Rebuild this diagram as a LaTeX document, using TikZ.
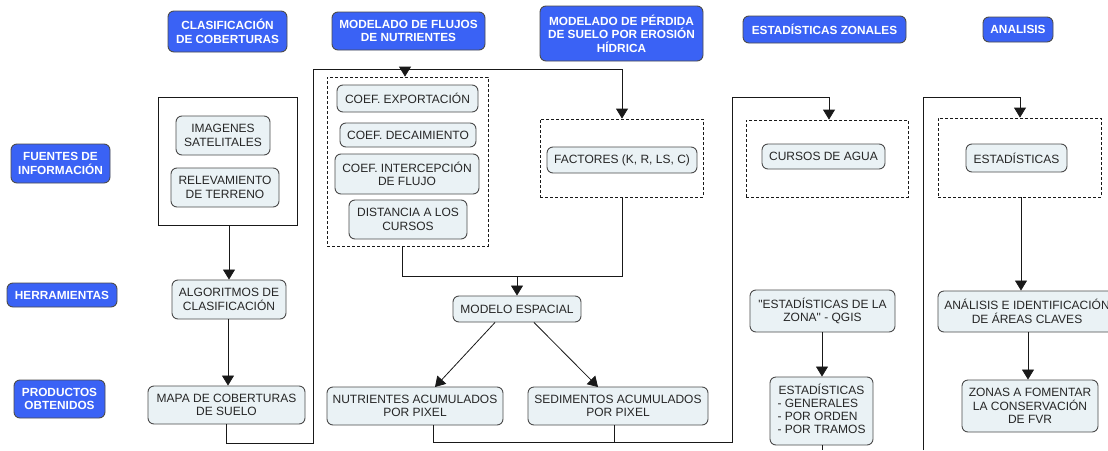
\documentclass[tikz,border=0pt]{standalone}
\usepackage{fontspec}
\setmainfont{Liberation Sans}[Ligatures=TeXOff]
\usetikzlibrary{arrows.meta}
\definecolor{hdrblue}{RGB}{58,98,245}
\definecolor{boxfill}{RGB}{234,242,245}
\definecolor{boxdraw}{RGB}{75,75,75}
\definecolor{linec}{RGB}{25,25,25}
\begin{document}
\begin{tikzpicture}[x=1pt,y=-1pt,
  every node/.style={inner sep=0pt,align=center,font=\fontsize{12}{13.6}\selectfont},
  hdr/.style={draw=boxdraw,line width=0.9pt,fill=hdrblue,rounded corners=6pt,text=white,font=\fontsize{11.8}{13.4}\selectfont\bfseries},
  lbox/.style={draw=boxdraw,line width=0.9pt,fill=boxfill,rounded corners=6pt,text=black!85},
  dbox/.style={draw=linec,line width=0.8pt,dash pattern=on 3pt off 2pt},
  sbox/.style={draw=linec,line width=0.8pt},
  conn/.style={draw=linec,line width=0.8pt},
  arr/.style={conn,-{Triangle[length=10pt,width=12pt]}}]
\useasboundingbox[fill=white] (0,0) rectangle (1108,450);

% headers
\node[hdr,minimum width=119pt,minimum height=41pt] (clas) at (227.5,31.5) {CLASIFICACIÓN\\DE COBERTURAS};
\node[hdr,minimum width=153pt,minimum height=38pt] (mflu) at (408.5,31) {MODELADO DE FLUJOS\\DE NUTRIENTES};
\node[hdr,minimum width=163pt,minimum height=55pt] (mper) at (621.5,33.5) {MODELADO DE PÉRDIDA\\DE SUELO POR EROSIÓN\\HÍDRICA};
\node[hdr,minimum width=163pt,minimum height=27pt] (estz) at (824.5,29.5) {ESTADÍSTICAS ZONALES};
\node[hdr,minimum width=70pt,minimum height=25pt] (anal) at (1018,29.5) {ANALISIS};
\node[hdr,minimum width=99pt,minimum height=39pt] (fuen) at (60.5,163.5) {FUENTES DE\\INFORMACIÓN};
\node[hdr,minimum width=110pt,minimum height=24pt] (herr) at (62,295) {HERRAMIENTAS};
\node[hdr,minimum width=91pt,minimum height=38pt] (prod) at (59.5,399) {PRODUCTOS\\OBTENIDOS};

% grouping frames
\node[sbox,minimum width=139pt,minimum height=128pt] (src) at (227.5,161) {};
\node[dbox,minimum width=161pt,minimum height=169pt] (d1) at (407.5,161.5) {};
\node[dbox,minimum width=163pt,minimum height=78pt] (d2) at (621.5,158) {};
\node[dbox,minimum width=162pt,minimum height=77pt] (d3) at (827,158.5) {};
\node[dbox,minimum width=163pt,minimum height=79pt] (d4) at (1019.5,157.5) {};

% column 1
\node[lbox,minimum width=94pt,minimum height=39pt] (imag) at (223,135.5) {IMAGENES\\SATELITALES};
\node[lbox,minimum width=108pt,minimum height=39pt] (rele) at (225,187.5) {RELEVAMIENTO\\DE TERRENO};
\node[lbox,minimum width=114pt,minimum height=39pt] (algo) at (229,299.5) {ALGORITMOS DE\\CLASIFICACIÓN};
\node[lbox,minimum width=157pt,minimum height=38pt] (mapa) at (226.5,405) {MAPA DE COBERTURAS\\DE SUELO};

% column 2
\node[lbox,minimum width=141pt,minimum height=27pt] (cexp) at (407.5,98.5) {COEF. EXPORTACIÓN};
\node[lbox,minimum width=136pt,minimum height=24pt] (cdec) at (408,135) {COEF. DECAIMIENTO};
\node[lbox,minimum width=144pt,minimum height=40pt] (cint) at (407,174) {COEF. INTERCEPCIÓN\\DE FLUJO};
\node[lbox,minimum width=118pt,minimum height=39pt] (dist) at (408,219.5) {DISTANCIA A LOS\\CURSOS};
\node[lbox,minimum width=150pt,minimum height=26pt] (fact) at (622,160) {FACTORES (K, R, LS, C)};
\node[lbox,minimum width=128pt,minimum height=26pt] (mesp) at (517,309) {MODELO ESPACIAL};
\node[lbox,minimum width=176pt,minimum height=38pt] (nutr) at (415,406) {NUTRIENTES ACUMULADOS\\POR PIXEL};
\node[lbox,minimum width=180pt,minimum height=38pt] (sedi) at (618,406) {SEDIMENTOS ACUMULADOS\\POR PIXEL};

% column 4
\node[lbox,minimum width=123pt,minimum height=25pt] (curs) at (823.5,156.5) {CURSOS DE AGUA};
\node[lbox,minimum width=145pt,minimum height=42pt] (qgis) at (822.5,311) {"ESTADÍSTICAS DE LA\\ZONA" - QGIS};
\node[lbox,minimum width=103pt,minimum height=68pt] (esta) at (821.5,411) {\renewcommand{\arraystretch}{0.95}\begin{tabular}{@{}l@{}}\multicolumn{1}{@{}c@{}}{ESTADÍSTICAS}\\- GENERALES\\- POR ORDEN\\- POR TRAMOS\end{tabular}};

% column 5
\node[lbox,minimum width=101pt,minimum height=28pt] (esdi) at (1016.5,158) {ESTADÍSTICAS};
\node[lbox,minimum width=178pt,minimum height=41pt] (anai) at (1027,311.5) {ANÁLISIS E IDENTIFICACIÓN\\DE ÁREAS CLAVES};
\node[lbox,minimum width=136pt,minimum height=52pt] (zona) at (1030,406) {ZONAS A FOMENTAR\\LA CONSERVACIÓN\\DE FVR};

% free corner points
\coordinate (c1a) at (226,443);
\coordinate (c1b) at (313,443);
\coordinate (c1c) at (313,69);
\coordinate (c1d) at (622,69);
\coordinate (c1e) at (405,69);
\coordinate (c2a) at (402,276);
\coordinate (c2b) at (622,276);
\coordinate (c2c) at (517,276);
\coordinate (c3a) at (433,442);
\coordinate (c3b) at (614,442);
\coordinate (c3c) at (732,442);
\coordinate (c3d) at (732,97);
\coordinate (c3e) at (829,97);
\coordinate (c4a) at (822,450);
\coordinate (c5a) at (923,450);
\coordinate (c5b) at (923,97);
\coordinate (c5c) at (1020,97);

% connectors
\draw[arr] (src.south -| 229,0) -- (algo.north -| 229,0);
\draw[arr] (algo.south -| 228,0) -- (mapa.north -| 228,0);
\draw[conn] (mapa.south -| c1a) -- (c1a) -- (c1b) -- (c1c) -- (c1d);
\draw[arr] (c1d) -- (d2.north -| c1d);
\draw[arr] (c1e) -- (d1.north -| c1e);
\draw[conn] (d1.south -| c2a) -- (c2a) -- (c2b) -- (d2.south -| c2b);
\draw[arr] (c2c) -- (mesp.north -| c2c);
\draw[arr] (mesp.south -| 495,0) -- (435,387);
\draw[arr] (mesp.south -| 534,0) -- (598,387);
\draw[conn] (nutr.south -| c3a) -- (c3a) -- (c3c) -- (c3d) -- (c3e);
\draw[conn] (sedi.south -| c3b) -- (c3b);
\draw[arr] (c3e) -- (d3.north -| c3e);
\draw[arr] (qgis.south -| c4a) -- (esta.north -| c4a);
\draw[conn] (esta.south -| c4a) -- (c4a);
\draw[conn] (c5a) -- (c5b) -- (c5c);
\draw[arr] (c5c) -- (d4.north -| c5c);
\draw[arr] (d4.south -| 1021,0) -- (anai.north -| 1021,0);
\draw[arr] (anai.south -| 1028,0) -- (zona.north -| 1028,0);
\end{tikzpicture}
\end{document}
